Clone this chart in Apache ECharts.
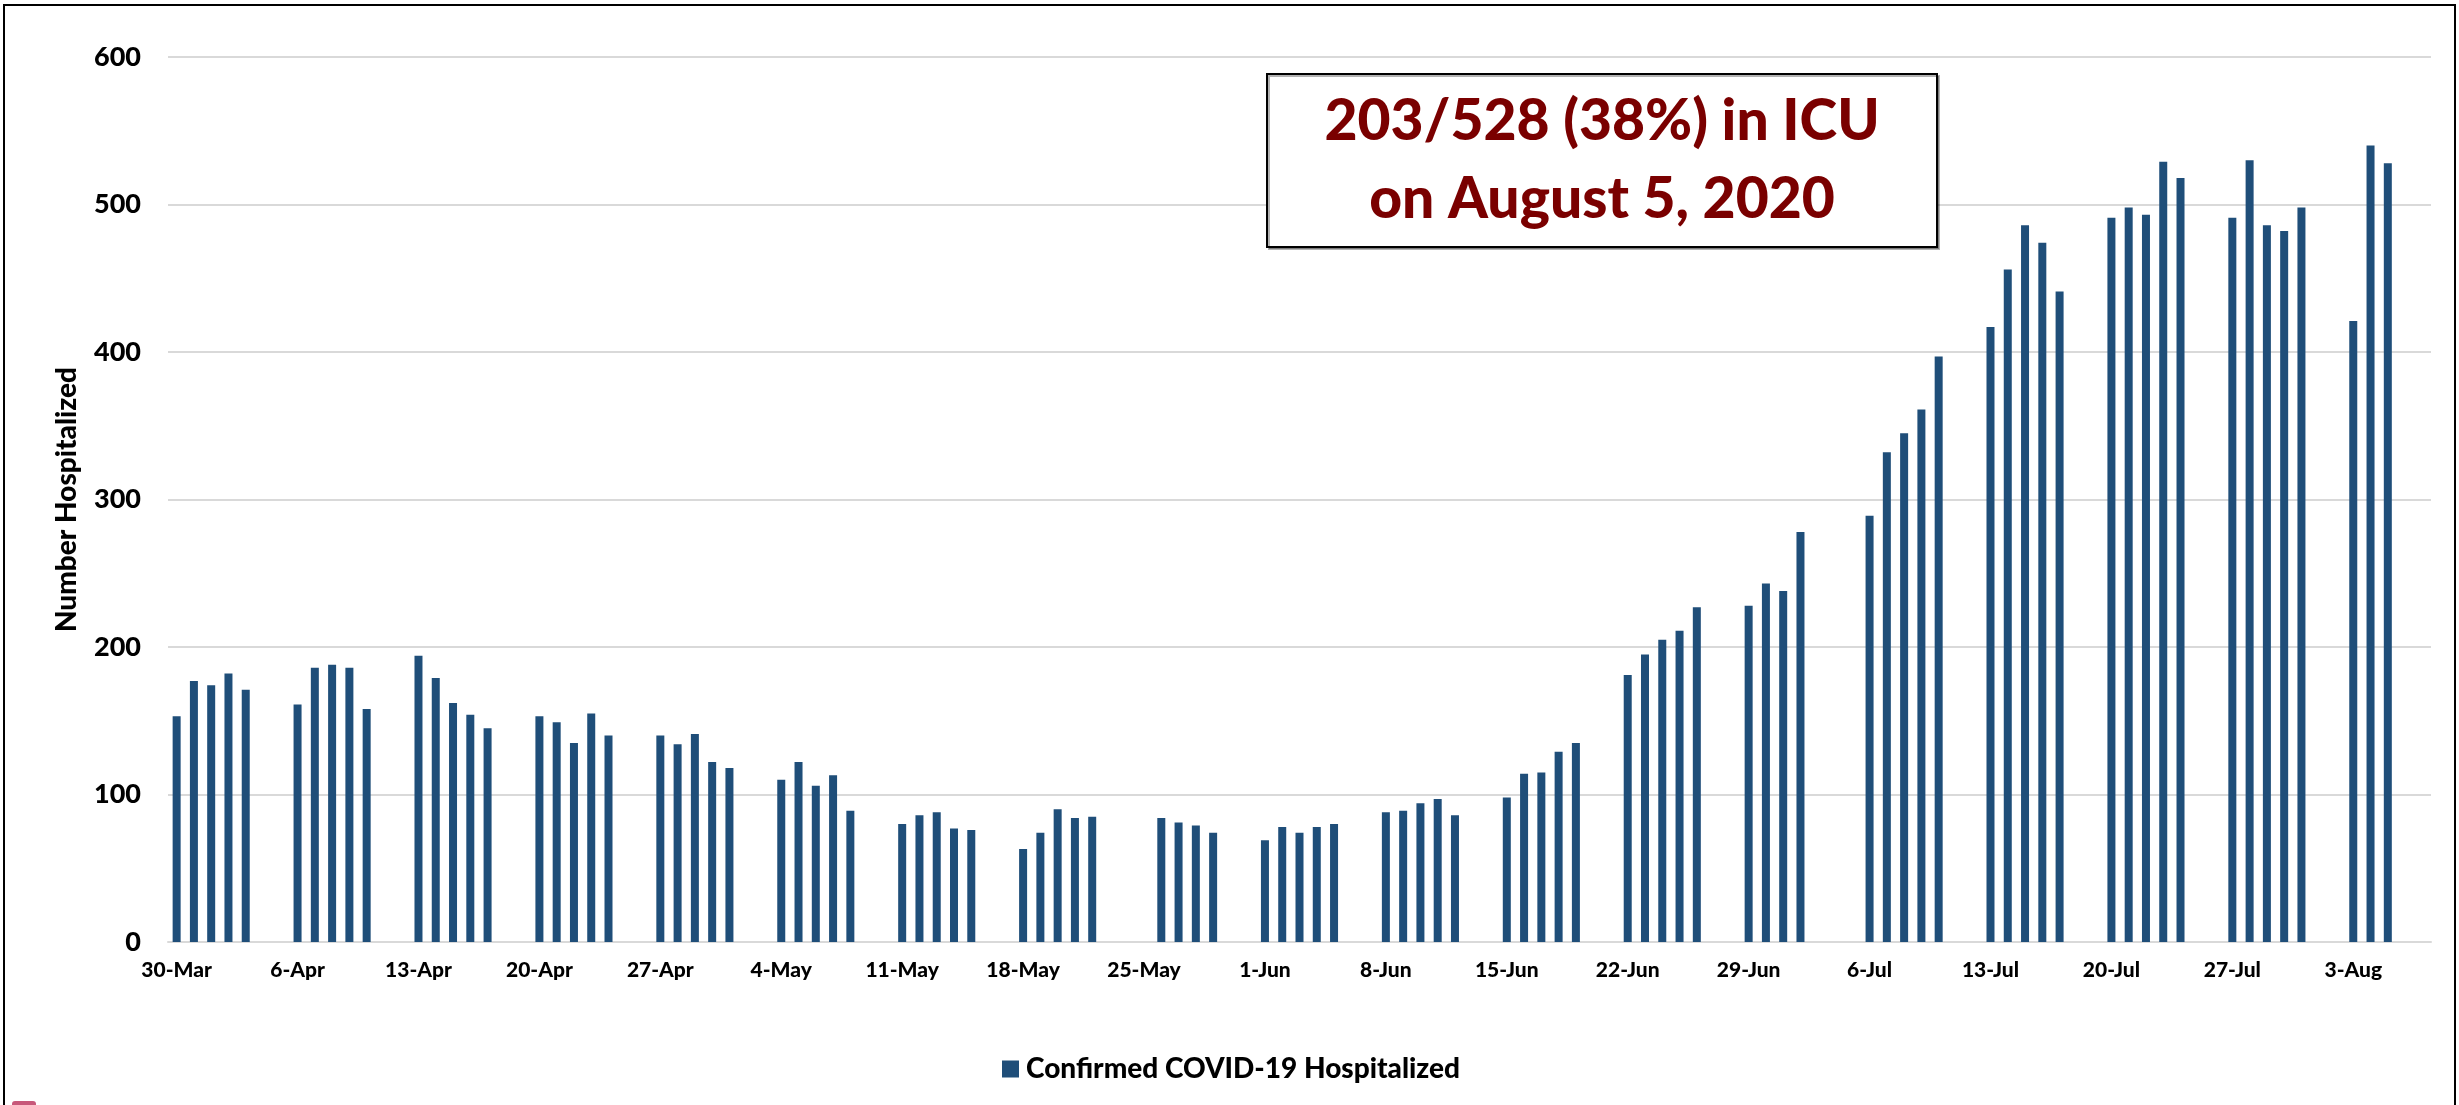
<!DOCTYPE html>
<html>
<head>
<meta charset="utf-8">
<script src="https://cdn.jsdelivr.net/npm/echarts@6/dist/echarts.min.js"></script>
<style>
  html, body { margin: 0; padding: 0; background: #fff; }
  #main { width: 2459px; height: 1105px; }
</style>
</head>
<body>
<div id="main"></div>
<script>
// week start labels (Mondays) shown on the x axis
const weekLabels = ['30-Mar', '6-Apr', '13-Apr', '20-Apr', '27-Apr', '4-May', '11-May', '18-May',
  '25-May', '1-Jun', '8-Jun', '15-Jun', '22-Jun', '29-Jun', '6-Jul', '13-Jul', '20-Jul', '27-Jul', '3-Aug'];

// Mon..Fri values per week, null = no report (holiday / not yet)
const hospitalized = [
  [153, 177, 174, 182, 171],
  [161, 186, 188, 186, 158],
  [194, 179, 162, 154, 145],
  [153, 149, 135, 155, 140],
  [140, 134, 141, 122, 118],
  [110, 122, 106, 113, 89],
  [80, 86, 88, 77, 76],
  [63, 74, 90, 84, 85],
  [null, 84, 81, 79, 74],
  [69, 78, 74, 78, 80],
  [88, 89, 94, 97, 86],
  [98, 114, 115, 129, 135],
  [181, 195, 205, 211, 227],
  [228, 243, 238, 278, null],
  [289, 332, 345, 361, 397],
  [417, 456, 486, 474, 441],
  [491, 498, 493, 529, 518],
  [491, 530, 486, 482, 498],
  [421, 540, 528, null, null]
];

const seriesName = 'Confirmed COVID-19 Hospitalized';
const barColor = '#1f4e79';
const fontFam = 'Lato, "Open Sans", sans-serif';
const heavy = 900;

// one category per day; weekends are empty slots
const categories = [];
const values = [];
hospitalized.forEach((week, w) => {
  const days = w === hospitalized.length - 1 ? 5 : 7;
  for (let d = 0; d < days; d++) {
    categories.push(d === 0 ? weekLabels[w] : weekLabels[w] + '+' + d);
    values.push(d < 5 ? week[d] : null);
  }
});

const chart = echarts.init(document.getElementById('main'));
chart.setOption({
  animation: false,
  backgroundColor: '#fff',
  grid: { left: 168, right: 28, top: 57, bottom: 163 },
  legend: {
    left: 997,
    top: 1050,
    itemWidth: 17,
    itemHeight: 17,
    icon: 'rect',
    textStyle: { fontFamily: fontFam, fontWeight: heavy, fontSize: 28, color: '#000', padding: [0, 0, 0, 2] },
    data: [seriesName]
  },
  xAxis: {
    type: 'category',
    data: categories,
    axisTick: { show: false },
    axisLine: { lineStyle: { color: '#d9d9d9', width: 2 } },
    axisLabel: {
      interval: 6,
      margin: 18,
      fontFamily: fontFam,
      fontWeight: heavy,
      fontSize: 21,
      color: '#000'
    }
  },
  yAxis: {
    type: 'value',
    min: 0,
    max: 600,
    interval: 100,
    name: 'Number Hospitalized',
    nameLocation: 'middle',
    nameGap: 87,
    nameTextStyle: { fontFamily: fontFam, fontWeight: heavy, fontSize: 28, color: '#000' },
    axisLine: { show: false },
    axisTick: { show: false },
    splitLine: { lineStyle: { color: '#d9d9d9', width: 2 } },
    axisLabel: { margin: 27, fontFamily: fontFam, fontWeight: heavy, fontSize: 27, color: '#000' }
  },
  series: [{
    name: seriesName,
    type: 'bar',
    data: values,
    barWidth: 8,
    itemStyle: { color: barColor }
  }],
  graphic: [
    {
      type: 'rect',
      shape: { x: 4, y: 5, width: 2451, height: 1110 },
      style: { fill: null, stroke: '#000', lineWidth: 2 },
      silent: true
    },
    {
      type: 'rect',
      shape: { x: 12, y: 1101, width: 24, height: 8, r: 3 },
      style: { fill: '#c8587a' },
      silent: true
    },
    {
      type: 'rect',
      z: 10,
      shape: { x: 1267, y: 74, width: 670, height: 173 },
      style: { fill: '#fff', stroke: '#000', lineWidth: 2, shadowColor: 'rgba(0,0,0,0.3)', shadowOffsetX: 2, shadowOffsetY: 2 }
    },
    {
      type: 'text',
      z: 11,
      x: 1602,
      y: 161,
      style: {
        text: '203/528 (38%) in ICU\non August 5, 2020',
        fontFamily: fontFam,
        fontWeight: heavy,
        fontSize: 57,
        lineHeight: 78,
        fill: '#7a0000',
        align: 'center',
        verticalAlign: 'middle'
      }
    }
  ]
});
</script>
</body>
</html>
